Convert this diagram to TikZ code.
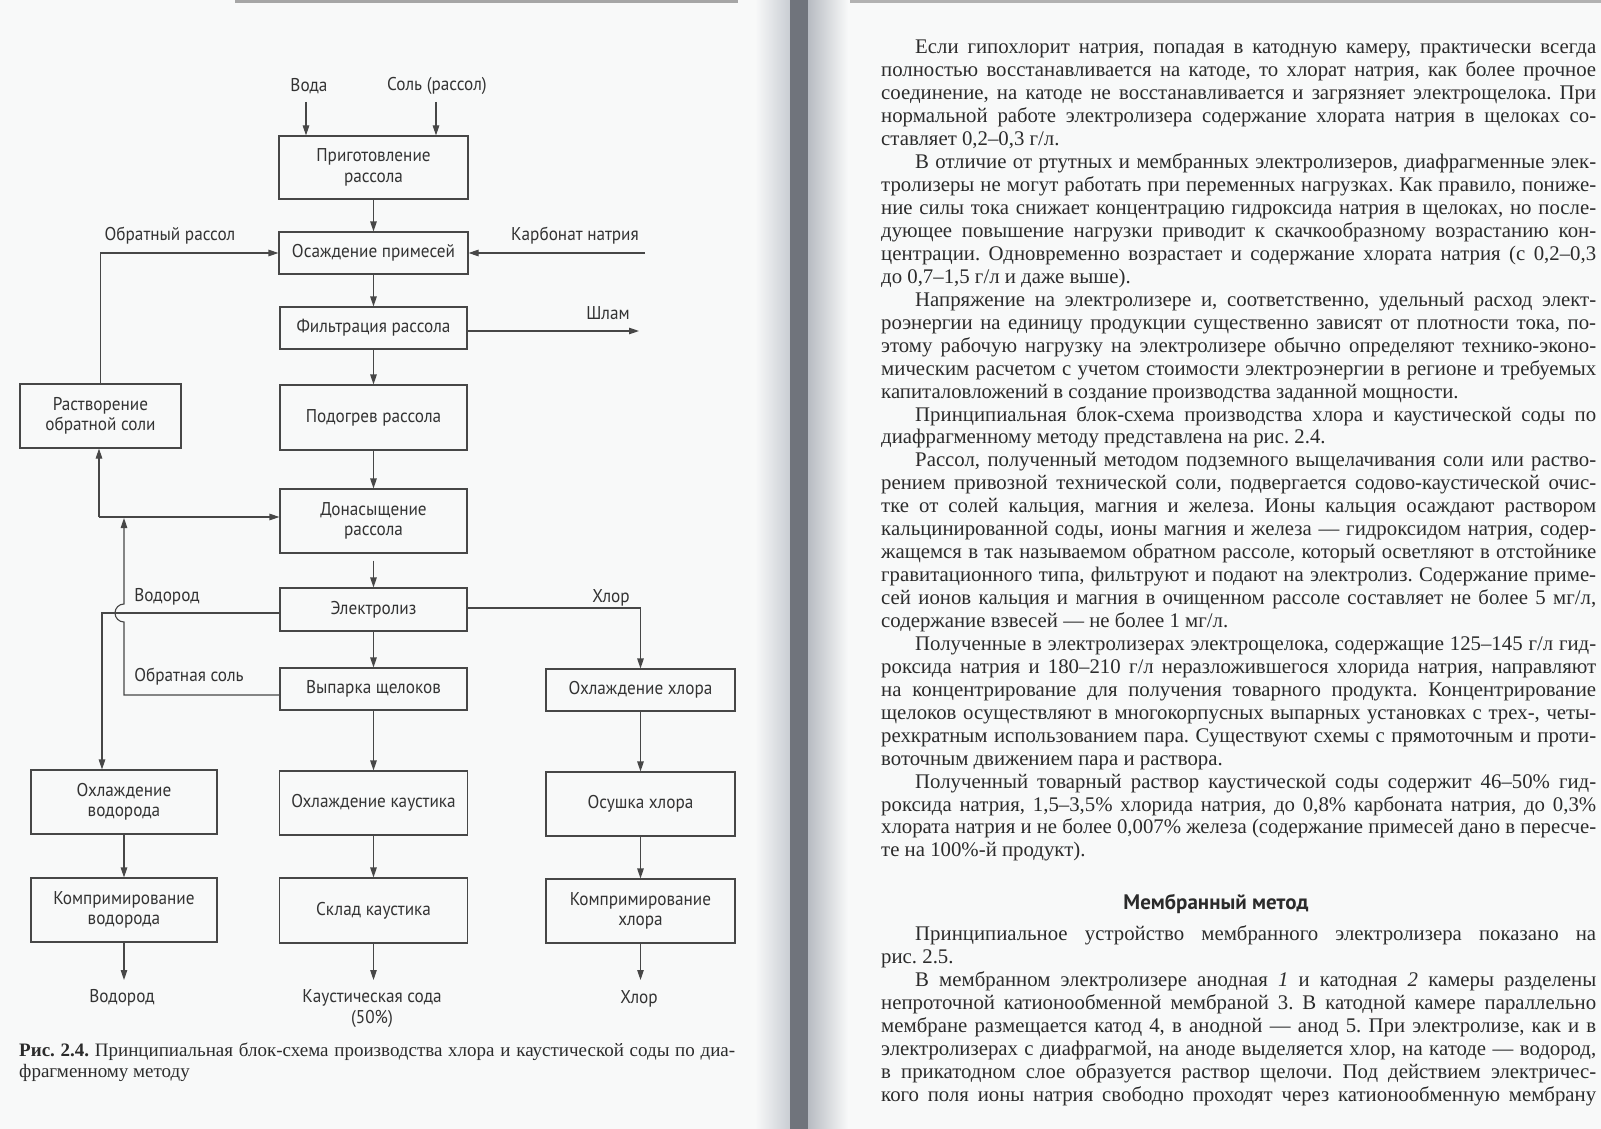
\documentclass[tikz,border=0pt]{standalone}
\usepackage{fontspec}
\setmainfont{Liberation Serif}
\newfontfamily\diagfont[FakeStretch=0.93]{PT Sans}
\newfontfamily\headfont{PT Sans}
\usetikzlibrary{arrows.meta}
\definecolor{ink}{HTML}{333333}
\definecolor{linec}{HTML}{474747}
\definecolor{bgc}{HTML}{F8F9F9}
\definecolor{txt}{HTML}{2B2B2B}
\definecolor{gutter}{HTML}{70747C}
\definecolor{gutterl}{HTML}{C9CDD3}
\frenchspacing
\newlength\jlw
\newcommand\JL[2]{\settowidth\jlw{#2}\ifdim\jlw>#1\relax\resizebox{#1}{\height}{#2}\else\makebox[#1][s]{#2}\fi}
\newcommand\BL[3]{\node[body] (#1) at (881,#2) {\JL{715pt}{#3}};}
\newcommand\BI[3]{\node[body] (#1) at (915,#2) {\JL{681pt}{#3}};}
\newcommand\BS[3]{\node[body] (#1) at (881,#2) {#3};}
\tikzset{
 blk/.style={draw=linec, line width=1.1pt, inner sep=2pt, align=center, text=ink, font={\diagfont\fontsize{18.5}{20.4}\selectfont}},
 lbl/.style={inner sep=0pt, align=center, text=ink, font={\diagfont\fontsize{18.5}{20.4}\selectfont}},
 arr/.style={draw=linec, line width=1.1pt, -{Triangle[length=10pt,width=6.5pt]}},
 body/.style={anchor=base west, inner sep=0pt, text=txt, font={\fontsize{20.8}{22.9}\selectfont\frenchspacing}},
 capt/.style={anchor=base west, inner sep=0pt, text=txt, font={\fontsize{19}{21}\selectfont\frenchspacing}},
}
\begin{document}
\begin{tikzpicture}[x=1pt,y=-1pt]
\useasboundingbox (0,0) rectangle (1601,1129);
\fill[bgc] (0,0) rectangle (1601,1129);
% gutter
\shade[left color=bgc, right color=gutterl] (755,0) rectangle (790,1129);
\fill[gutter] (790,0) rectangle (808,1129);
\shade[left color=gutterl!80!gutter, right color=bgc] (808,0) rectangle (848,1129);
% header rules
\fill[gray!70] (235,0) rectangle (738,3);
\fill[gray!60] (850,0) rectangle (1601,3);

% ---------- diagram ----------
\node[blk, minimum width=189pt, minimum height=63pt] (b1) at (373.5,167.5) {Приготовление\\рассола};
\node[blk, minimum width=189pt, minimum height=42pt] (b2) at (373.5,253) {Осаждение примесей};
\node[blk, minimum width=187pt, minimum height=42pt] (b3) at (373.5,328) {Фильтрация рассола};
\node[blk, minimum width=187pt, minimum height=65pt] (b4) at (373.5,417.5) {Подогрев рассола};
\node[blk, minimum width=161pt, minimum height=64pt] (br) at (100.5,416) {Растворение\\обратной соли};
\node[blk, minimum width=187pt, minimum height=64pt] (b5) at (373.5,521) {Донасыщение\\рассола};
\node[blk, minimum width=187pt, minimum height=43pt] (b6) at (373.5,609.5) {Электролиз};
\node[blk, minimum width=187pt, minimum height=42pt] (b7) at (373.5,689) {Выпарка щелоков};
\node[blk, minimum width=189pt, minimum height=42pt] (bh1) at (640.5,690) {Охлаждение хлора};
\node[blk, minimum width=186pt, minimum height=64pt] (c1) at (124,802) {Охлаждение\\водорода};
\node[blk, minimum width=188pt, minimum height=64pt] (c2) at (373.5,803) {Охлаждение каустика};
\node[blk, minimum width=189pt, minimum height=64pt] (c3) at (640.5,804) {Осушка хлора};
\node[blk, minimum width=186pt, minimum height=64pt] (d1) at (124,910) {Компримирование\\водорода};
\node[blk, minimum width=188pt, minimum height=65pt] (d2) at (373.5,910.5) {Склад каустика};
\node[blk, minimum width=189pt, minimum height=64pt] (d3) at (640.5,911) {Компримирование\\хлора};

% labels
\node[lbl] (lw) at (309,86) {Вода};
\node[lbl] (ls) at (437,86) {Соль (рассол)};
\node[lbl] (lor) at (170,236) {Обратный рассол};
\node[lbl] (lkn) at (575,236) {Карбонат натрия};
\node[lbl] (lsh) at (608,313) {Шлам};
\node[lbl] (lvd) at (167,597) {Водород};
\node[lbl] (lhl) at (611,598) {Хлор};
\node[lbl] (los) at (189,677) {Обратная соль};
\node[lbl] (o1) at (122,998) {Водород};
\node[lbl] (o2) at (372,1008.5) {Каустическая сода\\(50\%)};
\node[lbl] (o3) at (639,999) {Хлор};

% connectors
\coordinate (wa) at (306,102);
\coordinate (sa) at (436,102);
\draw[arr] (wa) -- (wa |- b1.north);
\draw[arr] (sa) -- (sa |- b1.north);
\draw[arr] (b1) -- (b2);
\draw[arr] (br.north) |- (b2.west);
\coordinate (kb) at (645,253);
\draw[arr] (kb) -- (b2.east);
\draw[arr] (b2) -- (b3);
\coordinate (sh) at (639,331);
\draw[arr] (b3.east |- sh) -- (sh);
\draw[arr] (b3) -- (b4);
\draw[arr] (b4) -- (b5);
\coordinate (j1) at (99,517);
\draw[arr] (j1) -- (j1 |- br.south);
\draw[arr] (j1) -- (j1 -| b5.west);
\draw[arr] ([yshift=-7pt]b5.south) -- (b6.north);
\coordinate (hv) at (102,613);
\draw[arr] (hv -| b6.west) -- (hv) -- (hv |- c1.north);
\coordinate (os) at (124,695);
\coordinate (j2) at (124,518);
\draw[arr] (os -| b7.west) -- (os) -- (124,622) arc[start angle=-90,end angle=-270,radius=9pt] -- (j2);
\coordinate (hl) at (640.5,608);
\draw[arr] (hl -| b6.east) -- (hl) -- (hl |- bh1.north);
\draw[arr] (b6) -- (b7);
\draw[arr] (b7) -- (c2);
\draw[arr] (bh1) -- (c3);
\draw[arr] (c1) -- (d1);
\draw[arr] (c2) -- (d2);
\draw[arr] (c3) -- (d3);
\coordinate (e1) at (124,980);
\coordinate (e2) at (373.5,980);
\coordinate (e3) at (640.5,980);
\draw[arr] (d1) -- (e1);
\draw[arr] (d2) -- (e2);
\draw[arr] (d3) -- (e3);

% caption
\node[capt] (cap1) at (19,1056) {\JL{716pt}{\textbf{Рис. 2.4.} Принципиальная блок-схема производства хлора и каустической соды по диа-}};
\node[capt] (cap2) at (19,1077) {фрагменному методу};

% ---------- right page text ----------
\BI{t1}{54}{Если гипохлорит натрия, попадая в катодную камеру, практически всегда}
\BL{t2}{76.94}{полностью восстанавливается на катоде, то хлорат натрия, как более прочное}
\BL{t3}{99.88}{соединение, на катоде не восстанавливается и загрязняет электрощелока. При}
\BL{t4}{122.82}{нормальной работе электролизера содержание хлората натрия в щелоках со-}
\BS{t5}{145.76}{ставляет 0,2–0,3 г/л.}
\BI{t6}{168.70}{В отличие от ртутных и мембранных электролизеров, диафрагменные элек-}
\BL{t7}{191.64}{тролизеры не могут работать при переменных нагрузках. Как правило, пониже-}
\BL{t8}{214.58}{ние силы тока снижает концентрацию гидроксида натрия в щелоках, но после-}
\BL{t9}{237.52}{дующее повышение нагрузки приводит к скачкообразному возрастанию кон-}
\BL{t10}{260.46}{центрации. Одновременно возрастает и содержание хлората натрия (с 0,2–0,3}
\BS{t11}{283.40}{до 0,7–1,5 г/л и даже выше).}
\BI{t12}{306.34}{Напряжение на электролизере и, соответственно, удельный расход элект-}
\BL{t13}{329.28}{роэнергии на единицу продукции существенно зависят от плотности тока, по-}
\BL{t14}{352.22}{этому рабочую нагрузку на электролизере обычно определяют технико-эконо-}
\BL{t15}{375.16}{мическим расчетом с учетом стоимости электроэнергии в регионе и требуемых}
\BS{t16}{398.10}{капиталовложений в создание производства заданной мощности.}
\BI{t17}{421.04}{Принципиальная блок-схема производства хлора и каустической соды по}
\BS{t18}{443.98}{диафрагменному методу представлена на рис. 2.4.}
\BI{t19}{466.92}{Рассол, полученный методом подземного выщелачивания соли или раство-}
\BL{t20}{489.86}{рением привозной технической соли, подвергается содово-каустической очис-}
\BL{t21}{512.80}{тке от солей кальция, магния и железа. Ионы кальция осаждают раствором}
\BL{t22}{535.74}{кальцинированной соды, ионы магния и железа — гидроксидом натрия, содер-}
\BL{t23}{558.68}{жащемся в так называемом обратном рассоле, который осветляют в отстойнике}
\BL{t24}{581.62}{гравитационного типа, фильтруют и подают на электролиз. Содержание приме-}
\BL{t25}{604.56}{сей ионов кальция и магния в очищенном рассоле составляет не более 5 мг/л,}
\BS{t26}{627.50}{содержание взвесей — не более 1 мг/л.}
\BI{t27}{650.44}{Полученные в электролизерах электрощелока, содержащие 125–145 г/л гид-}
\BL{t28}{673.38}{роксида натрия и 180–210 г/л неразложившегося хлорида натрия, направляют}
\BL{t29}{696.32}{на концентрирование для получения товарного продукта. Концентрирование}
\BL{t30}{719.26}{щелоков осуществляют в многокорпусных выпарных установках с трех-, четы-}
\BL{t31}{742.20}{рехкратным использованием пара. Существуют схемы с прямоточным и проти-}
\BS{t32}{765.14}{воточным движением пара и раствора.}
\BI{t33}{788.08}{Полученный товарный раствор каустической соды содержит 46–50\% гид-}
\BL{t34}{811.02}{роксида натрия, 1,5–3,5\% хлорида натрия, до 0,8\% карбоната натрия, до 0,3\%}
\BL{t35}{833.96}{хлората натрия и не более 0,007\% железа (содержание примесей дано в пересче-}
\BS{t36}{856.90}{те на 100\%-й продукт).}
\node[anchor=base, inner sep=0pt, text=txt, font={\headfont\bfseries\fontsize{21}{24}\selectfont}] (hd) at (1216,909) {Мембранный метод};
\BI{t38}{940}{Принципиальное устройство мембранного электролизера показано на}
\BS{t39}{963.04}{рис. 2.5.}
\BI{t40}{986.08}{В мембранном электролизере анодная \textit{1} и катодная \textit{2} камеры разделены}
\BL{t41}{1009.12}{непроточной катионообменной мембраной 3. В катодной камере параллельно}
\BL{t42}{1032.16}{мембране размещается катод 4, в анодной — анод 5. При электролизе, как и в}
\BL{t43}{1055.2}{электролизерах с диафрагмой, на аноде выделяется хлор, на катоде — водород,}
\BL{t44}{1078.24}{в прикатодном слое образуется раствор щелочи. Под действием электричес-}
\BL{t45}{1101.28}{кого поля ионы натрия свободно проходят через катионообменную мембрану}
\end{tikzpicture}
\end{document}
